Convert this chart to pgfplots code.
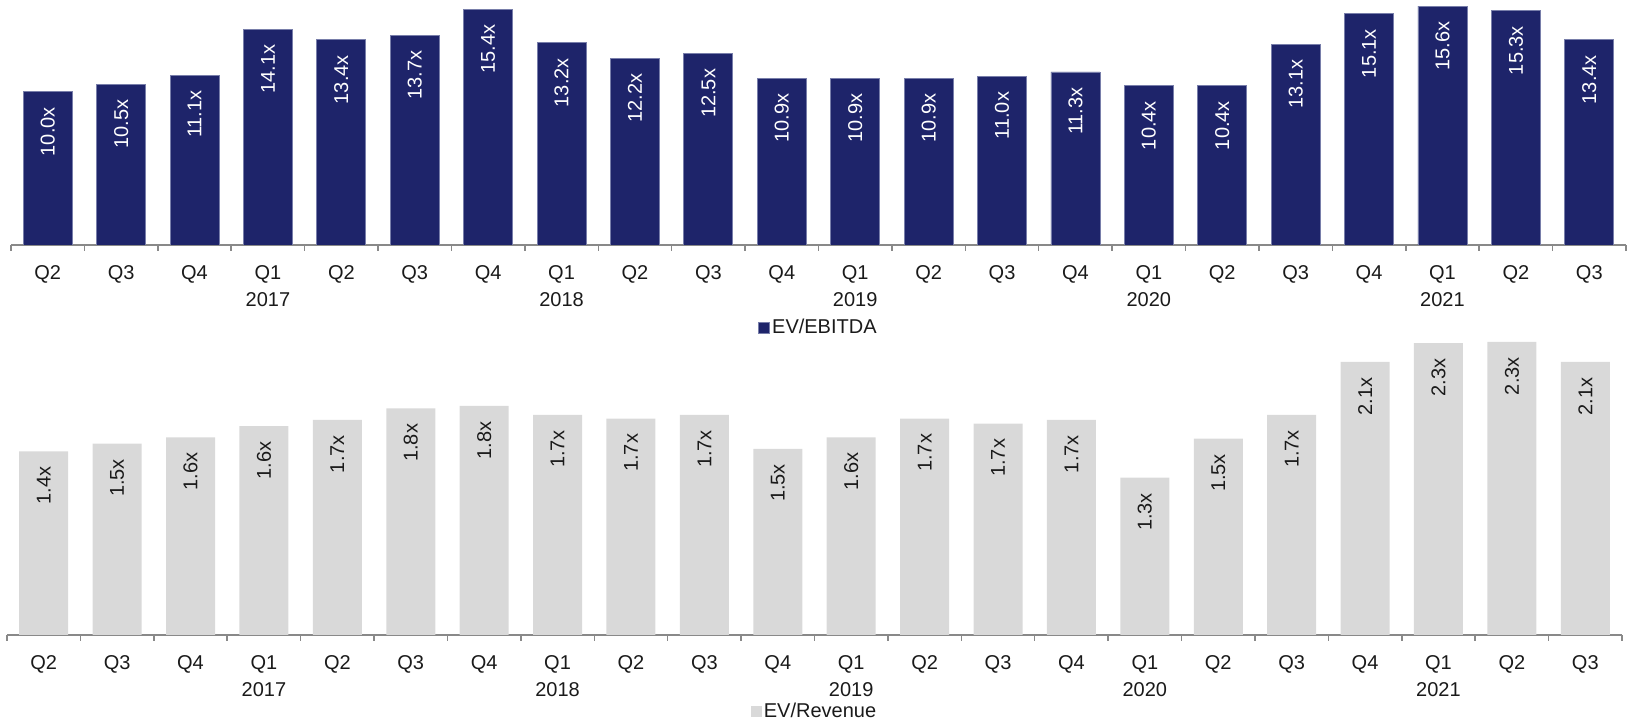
\documentclass[border=0pt]{standalone}
\usepackage{pgfplots}
\pgfplotsset{compat=1.18}
\usepackage{fontspec}
\setmainfont{Liberation Sans}

\definecolor{navybar}{RGB}{30,36,106}
\definecolor{navyedge}{RGB}{120,126,170}
\definecolor{graybar}{RGB}{217,217,217}
\definecolor{axisgray}{RGB}{137,137,137}
\definecolor{txt}{RGB}{26,26,26}

\pgfplotsset{
  quarterbars/.style={
    scale only axis,
    width=807.5pt,
    ymin=0,
    xmin=-0.5, xmax=21.5,
    hide y axis,
    axis x line*=bottom,
    x axis line style={draw=axisgray, line width=0.75pt, -},
    xtick={0,...,21},
    xticklabels={Q2,Q3,Q4,Q1\\2017,Q2,Q3,Q4,Q1\\2018,Q2,Q3,Q4,Q1\\2019,Q2,Q3,Q4,Q1\\2020,Q2,Q3,Q4,Q1\\2021,Q2,Q3},
    minor xtick={-0.5,0.5,...,21.5},
    major tick length=0pt,
    minor tick length=3pt,
    tick align=outside,
    tick style={draw=axisgray, line width=0.75pt},
    xticklabel style={font=\fontsize{10}{13.5}\selectfont, text=txt, align=center, anchor=north, inner sep=0pt, yshift=-10pt},
    ybar, bar width=24.5pt,
    point meta=explicit symbolic,
    nodes near coords,
    every node near coord/.append style={rotate=90, anchor=east, inner xsep=7.5pt, inner ysep=0pt, font=\fontsize{10}{12}\selectfont},
    legend style={draw=none, fill=none, at={(0.5,0)}, anchor=center, font=\fontsize{10}{12}\selectfont, text=txt, inner sep=0pt,
      nodes={inner sep=1pt}},
    legend image code/.code={\fill[##1] (0pt,-2.75pt) rectangle (5.5pt,2.75pt);},
  }
}

\begin{document}
\begin{tikzpicture}[x=1pt,y=1pt]

% EV/EBITDA
\begin{axis}[quarterbars,
    at={(5.5pt,238pt)}, anchor=south west,
    height=122.5pt, ymax=16,
    legend style={yshift=-41.5pt},
    every node near coord/.append style={text=white},
]
\addplot[fill=navybar, draw=navyedge, line width=0.4pt] coordinates {
  (0,10.0) [10.0x] (1,10.5) [10.5x] (2,11.1) [11.1x] (3,14.1) [14.1x]
  (4,13.4) [13.4x] (5,13.7) [13.7x] (6,15.4) [15.4x] (7,13.2) [13.2x]
  (8,12.2) [12.2x] (9,12.5) [12.5x] (10,10.9) [10.9x] (11,10.9) [10.9x]
  (12,10.9) [10.9x] (13,11.0) [11.0x] (14,11.3) [11.3x] (15,10.4) [10.4x]
  (16,10.4) [10.4x] (17,13.1) [13.1x] (18,15.1) [15.1x] (19,15.6) [15.6x]
  (20,15.3) [15.3x] (21,13.4) [13.4x]
};
\addlegendentry{EV/EBITDA}
\end{axis}

% EV/Revenue
\begin{axis}[quarterbars,
    at={(3.5pt,43pt)}, anchor=south west,
    height=151pt, ymax=2.4,
    legend style={yshift=-38.5pt},
    every node near coord/.append style={text=txt},
]
\addplot[fill=graybar, draw=none] coordinates {
  (0,1.46) [1.4x] (1,1.52) [1.5x] (2,1.57) [1.6x] (3,1.66) [1.6x]
  (4,1.71) [1.7x] (5,1.80) [1.8x] (6,1.82) [1.8x] (7,1.75) [1.7x]
  (8,1.72) [1.7x] (9,1.75) [1.7x] (10,1.48) [1.5x] (11,1.57) [1.6x]
  (12,1.72) [1.7x] (13,1.68) [1.7x] (14,1.71) [1.7x] (15,1.25) [1.3x]
  (16,1.56) [1.5x] (17,1.75) [1.7x] (18,2.17) [2.1x] (19,2.32) [2.3x]
  (20,2.33) [2.3x] (21,2.17) [2.1x]
};
\addlegendentry{EV/Revenue}
\end{axis}

\pgfresetboundingbox
\path[use as bounding box] (0pt,0pt) rectangle (814pt,360.5pt);
\end{tikzpicture}
\end{document}
